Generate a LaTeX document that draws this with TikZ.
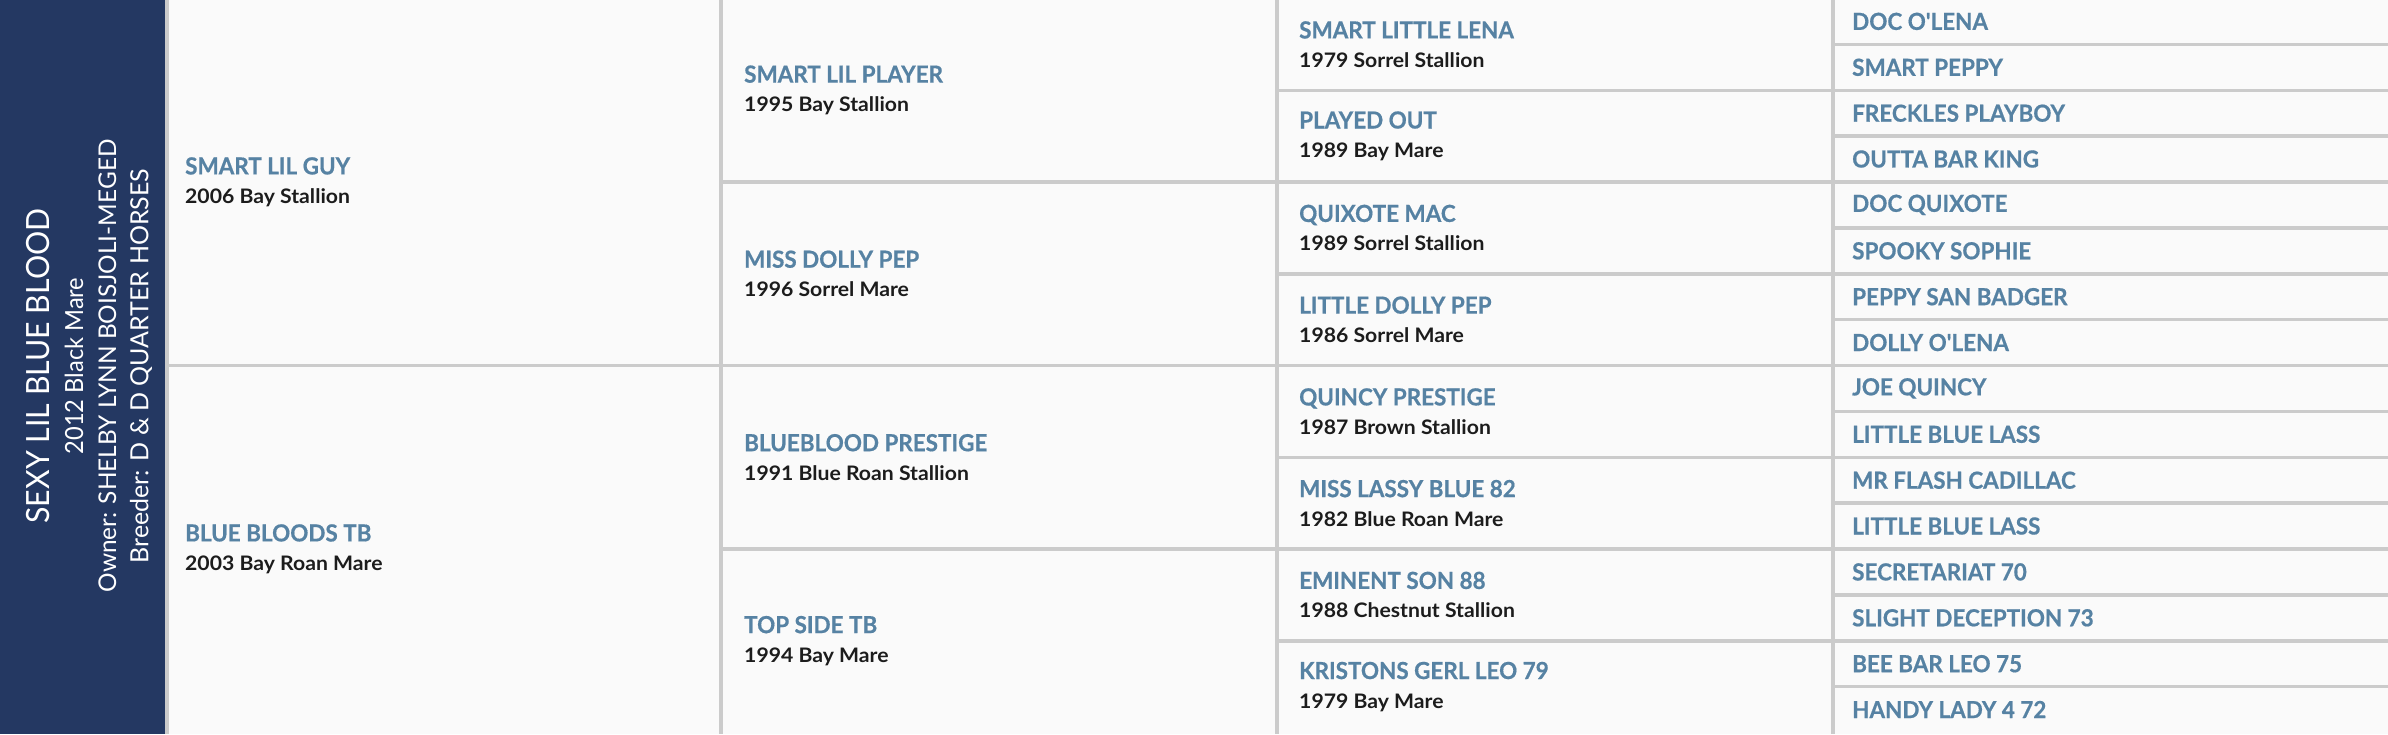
\documentclass[tikz,border=0pt]{standalone}
\usepackage{fontspec}
\setmainfont{Lato}
\newfontfamily\namefont{Lato Bold}[FakeStretch=0.955, FakeBold=0.6]
\newfontfamily\infofont{Lato Bold}[FakeStretch=1.06]
\newfontfamily\barfont{Lato}[FakeStretch=0.946]
\newfontfamily\barwidefont{Lato}
\definecolor{barnavy}{HTML}{243862}
\definecolor{namecol}{HTML}{5682A3}
\definecolor{rulegray}{HTML}{CBCBCB}
\definecolor{paper}{HTML}{FAFAFA}
\definecolor{infotext}{HTML}{1C1C1C}
\newcommand\horsecell[2]{#1\\{\color{infotext}\infofont\fontsize{20}{29}\selectfont #2}}
\tikzset{
	namecell/.style={anchor=west, align=left, inner sep=0pt, text=namecol,
		font=\namefont\fontsize{23.5}{29}\selectfont},
	gridline/.style={draw=rulegray, line width=3.5pt},
	bartext/.style={rotate=90, inner sep=0pt, text=white}
}

\begin{document}
\begin{tikzpicture}[x=1pt, y=-1pt]
	\useasboundingbox (0,0) rectangle (2388,734);
	\fill[paper] (0,0) rectangle (2388,734);
	\fill[barnavy] (0,0) rectangle (165,734);

	\draw[gridline] (167,0) -- (167,734) (721,0) -- (721,734) (1277,0) -- (1277,734) (1833,0) -- (1833,734);
	\draw[gridline] (167,365.5) -- (2388,365.5);
	\draw[gridline] (721,182) -- (2388,182) (721,549) -- (2388,549);
	\draw[gridline] (1277,90.3) -- (2388,90.3) (1277,273.8) -- (2388,273.8) (1277,457.3) -- (2388,457.3) (1277,640.8) -- (2388,640.8);
	\draw[gridline] (1833,44.4) -- (2388,44.4) (1833,136.1) -- (2388,136.1) (1833,227.9) -- (2388,227.9) (1833,319.6) -- (2388,319.6)
		(1833,411.4) -- (2388,411.4) (1833,503.1) -- (2388,503.1) (1833,594.9) -- (2388,594.9) (1833,686.6) -- (2388,686.6);

	\node[bartext, font=\barfont\fontsize{32}{32}\selectfont] (foal) at (38.5,366) {SEXY LIL BLUE BLOOD};
	\node[bartext, font=\barfont\fontsize{25}{25}\selectfont] (foalinfo) at (74,366) {2012 Black Mare};
	\node[bartext, font=\barwidefont\fontsize{24.4}{24.4}\selectfont] (owner) at (107.5,366) {Owner: SHELBY LYNN BOISJOLI-MEGED};
	\node[bartext, font=\barwidefont\fontsize{25}{25}\selectfont] (breeder) at (141,366) {Breeder: D \& D QUARTER HORSES};

	\node[namecell] (s) at (185,182) {\horsecell{SMART LIL GUY}{2006 Bay Stallion}};
	\node[namecell] (d) at (185,549) {\horsecell{BLUE BLOODS TB}{2003 Bay Roan Mare}};

	\node[namecell] (ss) at (744,90.2) {\horsecell{SMART LIL PLAYER}{1995 Bay Stallion}};
	\node[namecell] (sd) at (744,273.7) {\horsecell{MISS DOLLY PEP}{1996 Sorrel Mare}};
	\node[namecell] (ds) at (744,457.2) {\horsecell{BLUEBLOOD PRESTIGE}{1991 Blue Roan Stallion}};
	\node[namecell] (dd) at (744,640.7) {\horsecell{TOP SIDE TB}{1994 Bay Mare}};

	\node[namecell] (sss) at (1299,44.4) {\horsecell{SMART LITTLE LENA}{1979 Sorrel Stallion}};
	\node[namecell] (ssd) at (1299,136.1) {\horsecell{PLAYED OUT}{1989 Bay Mare}};
	\node[namecell] (sds) at (1299,227.9) {\horsecell{QUIXOTE MAC}{1989 Sorrel Stallion}};
	\node[namecell] (sdd) at (1299,319.6) {\horsecell{LITTLE DOLLY PEP}{1986 Sorrel Mare}};
	\node[namecell] (dss) at (1299,411.4) {\horsecell{QUINCY PRESTIGE}{1987 Brown Stallion}};
	\node[namecell] (dsd) at (1299,503.1) {\horsecell{MISS LASSY BLUE 82}{1982 Blue Roan Mare}};
	\node[namecell] (dds) at (1299,594.9) {\horsecell{EMINENT SON 88}{1988 Chestnut Stallion}};
	\node[namecell] (ddd) at (1299,686.6) {\horsecell{KRISTONS GERL LEO 79}{1979 Bay Mare}};

	\node[namecell] (ssss) at (1852,21.4) {DOC O'LENA};
	\node[namecell] (sssd) at (1852,67.3) {SMART PEPPY};
	\node[namecell] (ssds) at (1852,113.2) {FRECKLES PLAYBOY};
	\node[namecell] (ssdd) at (1852,159.0) {OUTTA BAR KING};
	\node[namecell] (sdss) at (1852,204.9) {DOC QUIXOTE};
	\node[namecell] (sdsd) at (1852,250.8) {SPOOKY SOPHIE};
	\node[namecell] (sdds) at (1852,296.7) {PEPPY SAN BADGER};
	\node[namecell] (sddd) at (1852,342.5) {DOLLY O'LENA};
	\node[namecell] (dsss) at (1852,388.4) {JOE QUINCY};
	\node[namecell] (dssd) at (1852,434.3) {LITTLE BLUE LASS};
	\node[namecell] (dsds) at (1852,480.2) {MR FLASH CADILLAC};
	\node[namecell] (dsdd) at (1852,526.0) {LITTLE BLUE LASS};
	\node[namecell] (ddss) at (1852,571.9) {SECRETARIAT 70};
	\node[namecell] (ddsd) at (1852,617.8) {SLIGHT DECEPTION 73};
	\node[namecell] (ddds) at (1852,663.7) {BEE BAR LEO 75};
	\node[namecell] (dddd) at (1852,709.5) {HANDY LADY 4 72};
\end{tikzpicture}
\end{document}
